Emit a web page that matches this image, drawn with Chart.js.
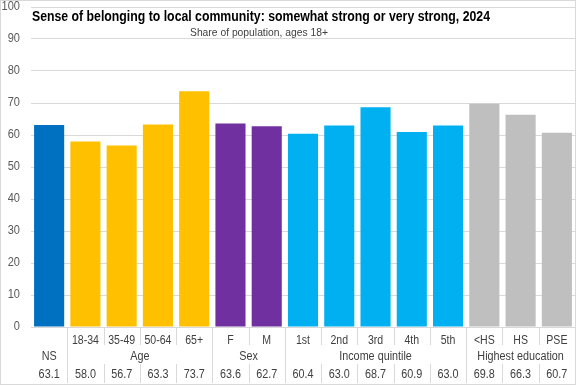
<!DOCTYPE html>
<html>
<head>
<meta charset="utf-8">
<script src="https://cdn.jsdelivr.net/npm/chart.js@4/dist/chart.umd.min.js"></script>
<style>
  body { margin: 0; background: #fff; }
  canvas { display: block; }
</style>
</head>
<body>
<canvas id="myChart" width="576" height="385"></canvas>
<script>
// data
const categories = ['NS', '18-34', '35-49', '50-64', '65+', 'F', 'M', '1st', '2nd', '3rd', '4th', '5th', '<HS', 'HS', 'PSE'];
const values = [63.1, 58.0, 56.7, 63.3, 73.7, 63.6, 62.7, 60.4, 63.0, 68.7, 60.9, 63.0, 69.8, 66.3, 60.7];
const groupNames = ['NS', 'Age', 'Sex', 'Income quintile', 'Highest education'];
const groupSizes = [1, 4, 2, 5, 3];
const groupColors = ['#0070C0', '#FFC000', '#7030A0', '#00B0F0', '#BFBFBF'];
const yMin = 0, yMax = 100, yStep = 10;

const titleText = 'Sense of belonging to local community: somewhat strong or very strong, 2024';
const subtitleText = 'Share of population, ages 18+';

// colour for each bar, by group
let barColors = [];
groupSizes.forEach((n, g) => {
    for (let k = 0; k < n; k++) barColors.push(groupColors[g]);
});

const lineColor = '#D9D9D9';
const textColor = '#404040';
const fontFam = "'Liberation Sans', sans-serif";

// text squeezed sideways, the reference uses a narrow font
function narrowText(c, txt, x, y, sx) {
    c.save();
    c.translate(x, y);
    c.scale(sx, 1);
    c.fillText(txt, 0, 0);
    c.restore();
}

// draws y labels, the table under the axis, the titles and the frame
const tablePlugin = {
    id: 'tablePlugin',
    afterDraw(chart) {
        let c = chart.ctx;
        let xs = chart.scales.x;
        let ys = chart.scales.y;
        let area = chart.chartArea;
        let n = categories.length;
        let half = (xs.getPixelForTick(1) - xs.getPixelForTick(0)) / 2;
        let top = area.bottom;
        let bottom = chart.height - 2;
        let row1 = top + 14, row2 = top + 30, row3 = top + 48;
        let row1End = top + 18, row3Start = top + 37;

        c.save();
        c.strokeStyle = lineColor;
        c.lineWidth = 1;

        // group boundaries
        let groupStart = [];
        let s = 0;
        groupSizes.forEach((sz) => { groupStart.push(s); s += sz; });

        for (let i = 1; i < n; i++) {
            let x = Math.round(xs.getPixelForTick(i) - half) + 0.5;
            c.beginPath();
            if (groupStart.includes(i)) {
                c.moveTo(x, top);
                c.lineTo(x, bottom);
            } else {
                c.moveTo(x, top);
                c.lineTo(x, row1End);
                c.moveTo(x, row3Start);
                c.lineTo(x, bottom);
            }
            c.stroke();
        }

        // frame
        c.strokeRect(0.5, 0.5, chart.width - 1, chart.height - 1);

        c.textBaseline = 'middle';

        // y tick labels
        c.fillStyle = '#595959';
        c.font = '12px ' + fontFam;
        c.textAlign = 'right';
        ys.ticks.forEach((t) => {
            narrowText(c, String(t.value), 20, ys.getPixelForValue(t.value), 0.92);
        });

        c.fillStyle = textColor;
        c.textAlign = 'center';

        // category labels + values
        for (let i = 0; i < n; i++) {
            let x = xs.getPixelForTick(i);
            let g = groupStart.filter((st) => st <= i).length - 1;
            if (groupSizes[g] > 1) narrowText(c, categories[i], x, row1, 0.88);
            narrowText(c, values[i].toFixed(1), x, row3, 0.9);
        }

        // group labels
        groupNames.forEach((name, g) => {
            let a = xs.getPixelForTick(groupStart[g]);
            let b = xs.getPixelForTick(groupStart[g] + groupSizes[g] - 1);
            narrowText(c, name, (a + b) / 2, row2, 0.9);
        });

        // titles, fitted to the width they take in the reference
        c.fillStyle = '#000';
        c.font = 'bold 15px ' + fontFam;
        narrowText(c, titleText, 261, 17, 458 / c.measureText(titleText).width);
        c.fillStyle = textColor;
        c.font = '11.5px ' + fontFam;
        narrowText(c, subtitleText, 259, 33, 138 / c.measureText(subtitleText).width);
        c.restore();
    }
};

const ctx = document.getElementById('myChart');

new Chart(ctx, {
    type: 'bar',
    data: {
        labels: categories,
        datasets: [
            {
                data: values,
                backgroundColor: barColors,
                borderWidth: 0,
                barPercentage: 0.83,
                categoryPercentage: 1
            }
        ]
    },
    options: {
        responsive: false,
        animation: false,
        layout: {
            padding: { top: 7, right: 1, bottom: 58, left: 0 }
        },
        plugins: {
            legend: { display: false },
            tooltip: { enabled: false }
        },
        scales: {
            x: {
                display: false
            },
            y: {
                min: yMin,
                max: yMax,
                ticks: {
                    stepSize: yStep,
                    display: false
                },
                grid: {
                    color: lineColor,
                    drawTicks: false
                },
                border: { display: false },
                afterFit(scale) { scale.width = 31; }
            }
        }
    },
    plugins: [tablePlugin]
});
</script>
</body>
</html>
